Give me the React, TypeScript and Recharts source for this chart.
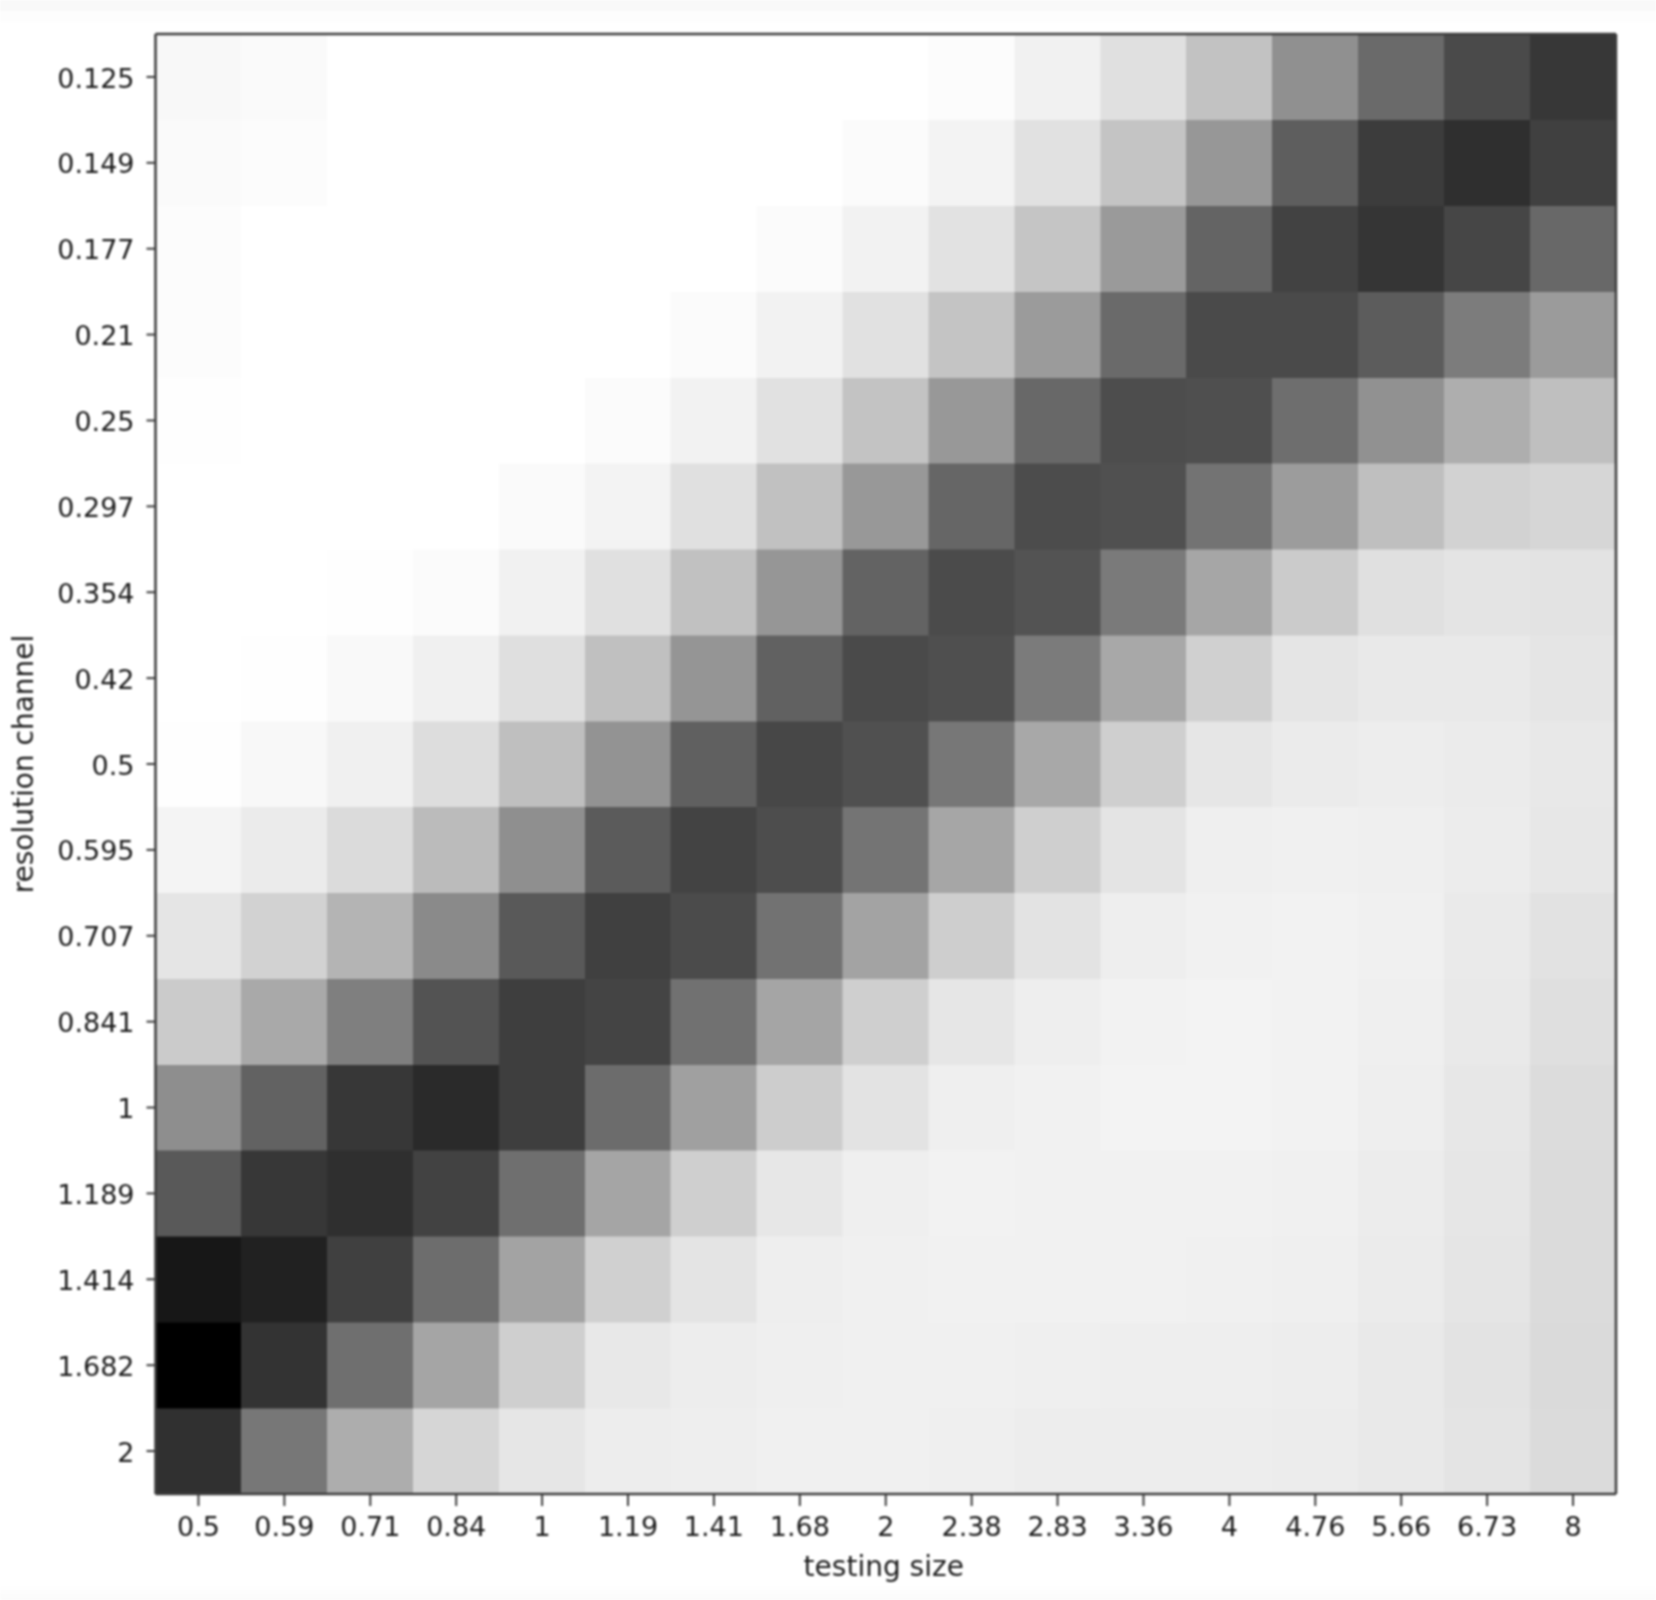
import React from "react"
import { BarChart, Bar, Cell, XAxis, YAxis } from "recharts"

const sizeLabels = ["0.5", "0.59", "0.71", "0.84", "1", "1.19", "1.41", "1.68", "2", "2.38", "2.83", "3.36", "4", "4.76", "5.66", "6.73", "8"]
const channelLabels = ["0.125", "0.149", "0.177", "0.21", "0.25", "0.297", "0.354", "0.42", "0.5", "0.595", "0.707", "0.841", "1", "1.189", "1.414", "1.682", "2"]

// grey level of each cell, one row per resolution channel
const row0 = [0xf8, 0xfa, 0xff, 0xff, 0xff, 0xff, 0xff, 0xff, 0xff, 0xfc, 0xf1, 0xe0, 0xc2, 0x90, 0x6a, 0x4a, 0x37]
const row1 = [0xfa, 0xfc, 0xff, 0xff, 0xff, 0xff, 0xff, 0xff, 0xfb, 0xf3, 0xe1, 0xc4, 0x97, 0x5e, 0x3c, 0x2f, 0x40]
const row2 = [0xfc, 0xff, 0xff, 0xff, 0xff, 0xff, 0xff, 0xfb, 0xf2, 0xe2, 0xc5, 0x9a, 0x64, 0x42, 0x35, 0x46, 0x68]
const row3 = [0xfc, 0xff, 0xff, 0xff, 0xff, 0xff, 0xfb, 0xf2, 0xe1, 0xc4, 0x9b, 0x6a, 0x4a, 0x4a, 0x5c, 0x7c, 0x9b]
const row4 = [0xfe, 0xff, 0xff, 0xff, 0xff, 0xfb, 0xf2, 0xe1, 0xc3, 0x98, 0x68, 0x4d, 0x4f, 0x6e, 0x91, 0xae, 0xbf]
const row5 = [0xff, 0xff, 0xff, 0xff, 0xfa, 0xf3, 0xe0, 0xc1, 0x98, 0x66, 0x4c, 0x50, 0x73, 0x9c, 0xbf, 0xd2, 0xd6]
const row6 = [0xff, 0xff, 0xfe, 0xfb, 0xf1, 0xe0, 0xc1, 0x96, 0x63, 0x4b, 0x53, 0x7a, 0xa6, 0xcb, 0xe0, 0xe4, 0xe3]
const row7 = [0xff, 0xfe, 0xf9, 0xf0, 0xdf, 0xc0, 0x95, 0x61, 0x4a, 0x4f, 0x7b, 0xa8, 0xd0, 0xe5, 0xe9, 0xe9, 0xe5]
const row8 = [0xfe, 0xf8, 0xf0, 0xdd, 0xbf, 0x93, 0x60, 0x47, 0x50, 0x77, 0xa8, 0xcf, 0xe6, 0xeb, 0xed, 0xeb, 0xe8]
const row9 = [0xf4, 0xeb, 0xdb, 0xbb, 0x8f, 0x5b, 0x43, 0x4d, 0x74, 0xa6, 0xcf, 0xe4, 0xef, 0xf0, 0xef, 0xec, 0xe7]
const row10 = [0xe5, 0xd2, 0xb4, 0x8a, 0x59, 0x40, 0x4b, 0x72, 0xa3, 0xce, 0xe3, 0xee, 0xf1, 0xf2, 0xf0, 0xea, 0xe2]
const row11 = [0xcb, 0xa9, 0x7f, 0x53, 0x3e, 0x44, 0x71, 0xa5, 0xcf, 0xe6, 0xee, 0xf2, 0xf3, 0xf2, 0xef, 0xe9, 0xdf]
const row12 = [0x8e, 0x62, 0x37, 0x2a, 0x3e, 0x6c, 0xa0, 0xcd, 0xe3, 0xef, 0xf1, 0xf3, 0xf3, 0xf2, 0xee, 0xe7, 0xdc]
const row13 = [0x59, 0x37, 0x2f, 0x42, 0x6f, 0xa5, 0xcf, 0xe7, 0xef, 0xf2, 0xf1, 0xf1, 0xf1, 0xf0, 0xec, 0xe6, 0xdb]
const row14 = [0x17, 0x21, 0x40, 0x6d, 0xa3, 0xd0, 0xe4, 0xee, 0xf0, 0xf1, 0xf1, 0xf1, 0xf0, 0xef, 0xeb, 0xe5, 0xdb]
const row15 = [0x00, 0x33, 0x6f, 0xa5, 0xcf, 0xe8, 0xed, 0xef, 0xf0, 0xf0, 0xef, 0xee, 0xee, 0xed, 0xe9, 0xe3, 0xda]
const row16 = [0x30, 0x77, 0xad, 0xd6, 0xe6, 0xed, 0xee, 0xf0, 0xf0, 0xef, 0xed, 0xed, 0xed, 0xec, 0xe9, 0xe4, 0xdb]

const rows = [row0, row1, row2, row3, row4, row5, row6, row7, row8, row9, row10, row11, row12, row13, row14, row15, row16]

// every cell is one unit tall, the stack goes from the last row up to the first
const chartData = sizeLabels.map((size) => {
  const entry: Record<string, string | number> = { size }
  channelLabels.forEach((_, i) => {
    entry["row" + i] = 1
  })
  return entry
})

const rowTicks = channelLabels.map((_, i) => 16.5 - i)
const grey = (v: number) => `rgb(${v},${v},${v})`

const frame = "#3c3c3c"
const text = "#1c1c1c"
const tickFont = { fontFamily: "DejaVu Sans", fontSize: 27, fill: text }
const labelFont = { fontFamily: "DejaVu Sans", fontSize: 28, fill: text }

export default function App() {
  return (
    <div
      style={{
        position: "absolute",
        left: 0,
        top: 0,
        width: 1656,
        height: 1600,
        filter: "blur(0.8px)",
        background: "linear-gradient(#f9f9f9 0, #f9f9f9 11px, #fdfdfd 11px, #fdfdfd 22px, #ffffff 22px, #ffffff 1585px, #fbfbfb 1600px)",
      }}
    >
      <BarChart
        width={1656}
        height={1600}
        data={chartData}
        barCategoryGap={0}
        margin={{ top: 0, right: 0, bottom: 0, left: 0 }}
      >
        <XAxis
          dataKey="size"
          interval={0}
          height={106}
          tick={tickFont}
          tickSize={12}
          tickMargin={11}
          tickLine={{ stroke: frame, strokeWidth: 2 }}
          axisLine={{ stroke: frame, strokeWidth: 2.5 }}
          label={{ value: "testing size", position: "insideBottom", offset: 24, dx: -2, style: labelFont }}
        />
        <XAxis xAxisId="top" orientation="top" dataKey="size" height={34} tick={false} tickLine={false} axisLine={{ stroke: frame, strokeWidth: 2.5 }} />
        <YAxis
          type="number"
          domain={[0, 17]}
          ticks={rowTicks}
          interval={0}
          width={155.5}
          tick={{ ...tickFont, dy: 1 }}
          tickSize={9}
          tickMargin={12}
          tickLine={{ stroke: frame, strokeWidth: 2 }}
          axisLine={{ stroke: frame, strokeWidth: 2.5 }}
          tickFormatter={(v: number) => channelLabels[Math.floor(17 - v)]}
          label={{ value: "resolution channel", angle: -90, position: "insideLeft", offset: 26, dx: -3, style: { ...labelFont, textAnchor: "middle" } }}
        />
        <YAxis yAxisId="right" orientation="right" type="number" domain={[0, 17]} width={40} tick={false} tickLine={false} axisLine={{ stroke: frame, strokeWidth: 2.5 }} />
        {[...channelLabels.keys()].reverse().map((r) => (
          <Bar key={r} dataKey={"row" + r} stackId="cells" isAnimationActive={false} shapeRendering="crispEdges">
            {rows[r].map((v, c) => (
              <Cell key={c} fill={grey(v)} stroke={grey(v)} strokeWidth={0.5} />
            ))}
          </Bar>
        ))}
      </BarChart>
    </div>
  )
}
